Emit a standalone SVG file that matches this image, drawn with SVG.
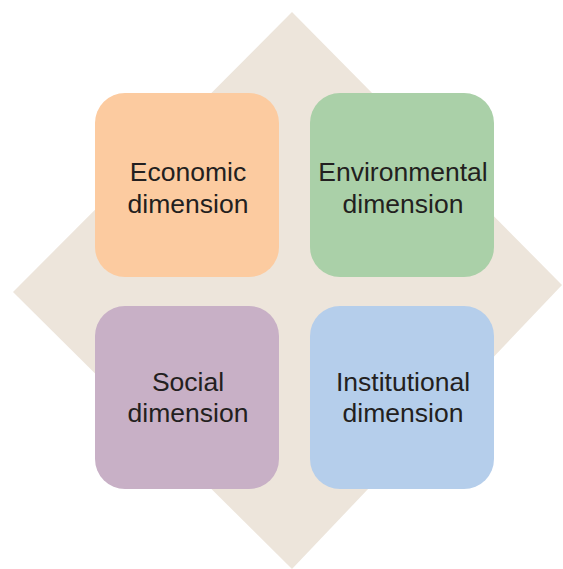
<svg xmlns="http://www.w3.org/2000/svg" width="563" height="569" viewBox="0 0 563 569">
<style>
.box{stroke:none}
.lbl{font-family:"Liberation Sans",Arial,sans-serif;font-size:26.5px;fill:#231F20;text-anchor:middle}
</style>
<rect width="563" height="569" fill="#FFFFFF"/>
<polygon id="diamond" points="292,12 562,285 292,569 13,292" fill="#EDE5DB"/>
<g id="connectors"></g>
<g id="economic">
<rect class="box" x="95" y="93" width="184" height="184" rx="30" fill="#FCCBA0"/>
<text class="lbl" x="188" y="181">Economic</text>
<text class="lbl" x="188" y="213">dimension</text>
</g>
<g id="environmental">
<rect class="box" x="310" y="93" width="184" height="184" rx="30" fill="#AAD0A8"/>
<text class="lbl" x="403" y="181">Environmental</text>
<text class="lbl" x="403" y="213">dimension</text>
</g>
<g id="social">
<rect class="box" x="95" y="306" width="184" height="183" rx="30" fill="#C8B0C6"/>
<text class="lbl" x="188" y="391">Social</text>
<text class="lbl" x="188" y="422">dimension</text>
</g>
<g id="institutional">
<rect class="box" x="310" y="306" width="184" height="183" rx="30" fill="#B5CEEB"/>
<text class="lbl" x="403" y="391">Institutional</text>
<text class="lbl" x="403" y="422">dimension</text>
</g>
</svg>
